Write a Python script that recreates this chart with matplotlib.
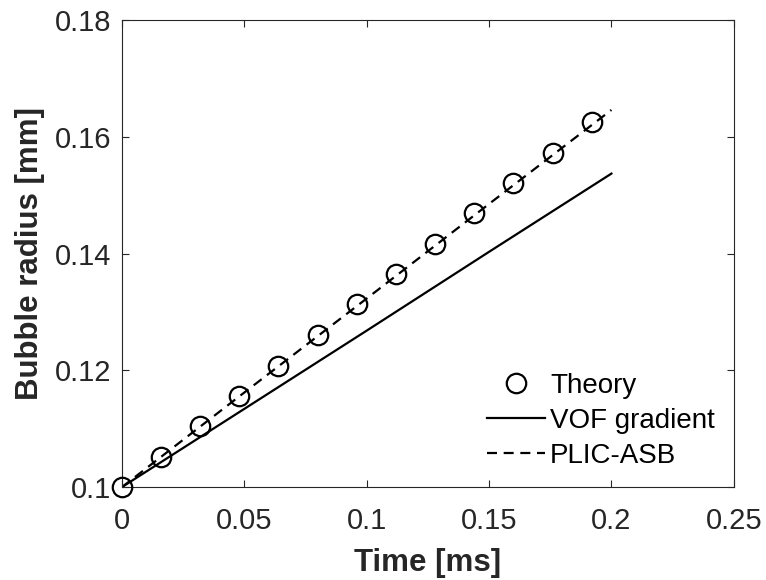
import numpy as np
import matplotlib
matplotlib.use("Agg")
import matplotlib.pyplot as plt
from matplotlib.ticker import FuncFormatter

# data
t_theory = [0, 0.016, 0.032, 0.048, 0.064, 0.080, 0.096, 0.112, 0.128, 0.144, 0.160, 0.176, 0.192]
r_theory = [0.1000, 0.1052, 0.1104, 0.1156, 0.1208, 0.1261, 0.1313, 0.1365,
            0.1417, 0.1469, 0.1521, 0.1573, 0.1625]

t_sim = [0, 0.05, 0.10, 0.15, 0.20]
r_vof = [0.1000, 0.1134, 0.1268, 0.1403, 0.1537]
r_plic = [0.1000, 0.1162, 0.1323, 0.1485, 0.1646]

x_ticks = [0, 0.05, 0.1, 0.15, 0.2, 0.25]
y_ticks = [0.1, 0.12, 0.14, 0.16, 0.18]

plt.rcParams['font.family'] = ['Liberation Sans', 'DejaVu Sans']
axis_col = '#262626'

fig = plt.figure(figsize=(7.66, 5.8), dpi=100)
ax = fig.add_axes([0.159, 0.160, 0.799, 0.8055])

ax.plot(t_theory, r_theory, linestyle='none', marker='o', markersize=14,
        markerfacecolor='none', markeredgecolor='black', markeredgewidth=1.6,
        clip_on=False, zorder=3, label='Theory')
ax.plot(t_sim, r_vof, color='black', linewidth=1.6, label='VOF gradient')
ax.plot(t_sim, r_plic, color='black', linewidth=1.6, linestyle=(0, (4.5, 3)),
        label='PLIC-ASB')

ax.set_xlim(0, 0.25)
ax.set_ylim(0.1, 0.18)
ax.set_xticks(x_ticks)
ax.set_yticks(y_ticks)
ax.xaxis.set_major_formatter(FuncFormatter(lambda v, p: '%g' % v))
ax.yaxis.set_major_formatter(FuncFormatter(lambda v, p: '%g' % v))

ax.tick_params(direction='in', length=5, width=0.8, colors=axis_col,
               labelsize=21, labelcolor=axis_col, top=True, right=True)
ax.tick_params(axis='x', pad=14.5)
ax.tick_params(axis='y', pad=7.5)
for s in ax.spines.values():
    s.set_color(axis_col)
    s.set_linewidth(0.8)

ax.set_xlabel('Time [ms]', fontsize=22.5, fontweight='bold', color=axis_col, labelpad=9)
ax.set_ylabel('Bubble radius [mm]', fontsize=22.5, fontweight='bold', color=axis_col, labelpad=7)

leg = ax.legend(loc='lower right', bbox_to_anchor=(0.987, 0.016), frameon=False,
                fontsize=20, handlelength=2.1, handletextpad=0.18,
                labelspacing=0.32, borderaxespad=0)

fig.savefig('out.png', dpi=100)
